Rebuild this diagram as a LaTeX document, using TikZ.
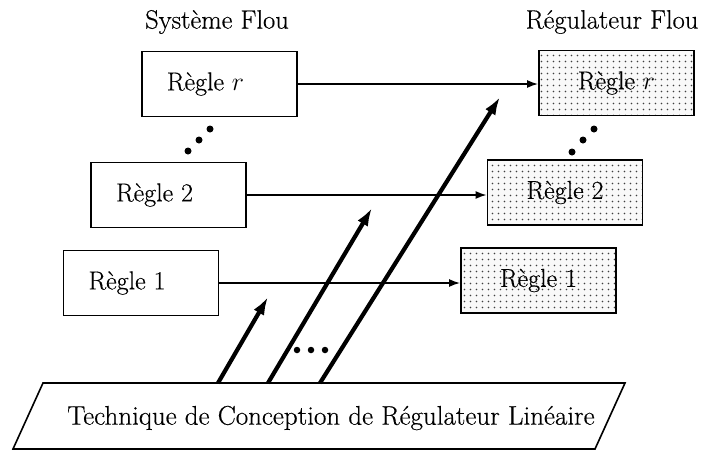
\documentclass[tikz,border=0pt]{standalone}
\usepackage{fix-cm}
\usepackage{fontspec}
\setmainfont{Latin Modern Roman}[FakeBold=0.4]
\usetikzlibrary{arrows.meta,patterns.meta}

% dot screen used for the controller rules
\tikzdeclarepattern{
  name=sparsedots,
  type=uncolored,
  bottom left={(0pt,0pt)},
  top right={(5.5pt,5.5pt)},
  tile size={(5.5pt,5.5pt)},
  code={\fill (2.75pt,2.75pt) circle (1pt);}
}

\tikzset{
  rulebox/.style={draw, line width=1.8pt, minimum width=155pt, minimum height=65pt,
    inner sep=0pt, font=\fontsize{26}{30}\selectfont},
  sysbox/.style={rulebox, execute at end node={\hspace{28pt}}},
  ctrlbox/.style={rulebox, preaction={fill=gray!5}, pattern=sparsedots,
    pattern color=black!75},
  heading/.style={font=\fontsize{26.5}{30}\selectfont, inner sep=0pt},
  link/.style={line width=1.6pt, -{Latex[length=11pt,width=8pt]}},
  design/.style={line width=4.2pt, -{Latex[length=18pt,width=12pt]}},
  ell/.style={fill, circle, inner sep=0pt, minimum size=7pt}
}

\begin{document}
\begin{tikzpicture}[x=1pt, y=-1pt]
\useasboundingbox (0,0) rectangle (702,453);

% headings
\node[heading] (hsys) at (217,22) {Système Flou};
\node[heading] (hreg) at (612,22) {Régulateur Flou};

% rules of the fuzzy system
\node[sysbox] (Lr) at (219.5,84) {Règle $r$};
\node[sysbox] (L2) at (168.5,195) {Règle 2};
\node[sysbox] (L1) at (141,283) {Règle 1};

% rules of the fuzzy controller
\node[ctrlbox] (Rr) at (616.5,83) {Règle $r$};
\node[ctrlbox] (R2) at (565,192.5) {Règle 2};
\node[ctrlbox] (R1) at (538.5,280.5) {Règle 1};

% rule-to-rule links
\draw[link] (Lr.east) -- (Lr.east -| Rr.west);
\draw[link] (L2.east) -- (L2.east -| R2.west);
\draw[link] (L1.east) -- (L1.east -| R1.west);

% vertical ellipses between rule 2 and rule r
\node[ell] (ldot1) at (188,151) {};
\node[ell] (ldot2) at (199,140) {};
\node[ell] (ldot3) at (210,129) {};
\node[ell] (rdot1) at (572,152) {};
\node[ell] (rdot2) at (583,140) {};
\node[ell] (rdot3) at (594,129) {};

% linear controller design technique
\coordinate (tl) at (43,383);
\coordinate (tr) at (625,383);
\coordinate (br) at (595,449);
\coordinate (bl) at (13,449);
\draw[line width=1.6pt, line join=miter] (tl) -- (tr) -- (br) -- (bl) -- cycle;
\node[font=\fontsize{27}{31}\selectfont, inner sep=0pt] (tech) at (331,418)
  {Technique de Conception de Régulateur Linéaire};

% design arrows
\coordinate (s1) at (218,383);
\coordinate (s2) at (268,383);
\coordinate (s3) at (320,383);
\coordinate (e1) at (268,297);
\coordinate (e2) at (372,208);
\coordinate (e3) at (500,97);
\draw[design] (s1) -- (e1);
\draw[design] (s2) -- (e2);
\draw[design] (s3) -- (e3);

% horizontal ellipsis between the design arrows
\node[ell, minimum size=6.5pt] (hdot1) at (297,350) {};
\node[ell, minimum size=6.5pt] (hdot2) at (311,350) {};
\node[ell, minimum size=6.5pt] (hdot3) at (325,350) {};
\end{tikzpicture}
\end{document}
